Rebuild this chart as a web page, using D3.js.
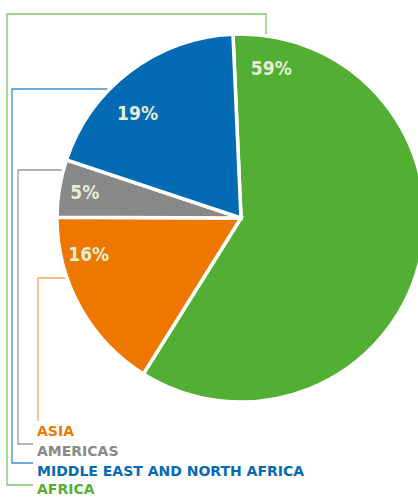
<!DOCTYPE html>
<html>
<head>
<meta charset="utf-8">
<script src="https://cdn.jsdelivr.net/npm/d3@7/dist/d3.min.js"></script>
<style>
  html, body { margin: 0; padding: 0; background: #fff; }
  svg { display: block; }
</style>
</head>
<body>
<svg id="chart" width="418" height="498"></svg>
<script>
// ---- data ----
const categories = ["AFRICA", "ASIA", "AMERICAS", "MIDDLE EAST AND NORTH AFRICA"];
const values = [59, 16, 5, 19];
const labels = ["59%", "16%", "5%", "19%"];
const colors = ["#53ae34", "#ee7700", "#898989", "#036ab3"];
const lineColors = ["#7cc766", "#f5a55c", "#9a9a9a", "#3d8ccb"];

// ---- layout ----
const svg = d3.select("#chart");
const cx = 241, cy = 218, R = 184;
const startDeg = -2.5;

const pie = d3.pie().sort(null).value(d => d)
  .startAngle(startDeg * Math.PI / 180)
  .endAngle((startDeg + 360) * Math.PI / 180);
const arcs = pie(values);
const arc = d3.arc().innerRadius(0).outerRadius(R);

const g = svg.append("g").attr("transform", `translate(${cx},${cy})`);
g.selectAll("path.slice").data(arcs).enter().append("path")
  .attr("class", "slice")
  .attr("d", arc)
  .attr("fill", (d, i) => colors[i])
  .attr("stroke", "#fff")
  .attr("stroke-width", 3.5)
  .attr("stroke-linejoin", "miter");

// label placement: fraction through the slice and radius
const labelFrac = [0.065, 0.77, 0.5, 0.39];
const labelRad = [0.83, 0.85, 0.86, 0.80];
g.selectAll("text.pct").data(arcs).enter().append("text")
  .attr("class", "pct")
  .each(function (d, i) {
    const a = d.startAngle + (d.endAngle - d.startAngle) * labelFrac[i];
    const r = R * labelRad[i];
    d3.select(this)
      .attr("x", Math.sin(a) * r)
      .attr("y", -Math.cos(a) * r);
  })
  .attr("text-anchor", "middle")
  .attr("dominant-baseline", "central")
  .attr("fill", "#e4eed3")
  .attr("font-family", "'DejaVu Sans Condensed', 'DejaVu Sans', sans-serif")
  .attr("font-weight", "bold")
  .attr("font-size", 19)
  .text((d, i) => labels[i]);

// ---- legend connector lines ----
const legendX = [7, 38, 18, 12];
const legendTopY = [14, 278, 170, 89];
const legendRowY = [485, 421, 444, 463];
const textBase = [494, 436, 456, 476];
const textX = 37;

function edgeX(y) { // left pie edge at height y
  return cx - Math.sqrt(Math.max(0, R * R - (y - cy) * (y - cy)));
}

const lines = svg.append("g").attr("fill", "none").attr("stroke-width", 1.3);
categories.forEach((c, i) => {
  let p;
  if (i === 0) {
    const topX = 266;
    const topEdgeY = cy - Math.sqrt(R * R - (topX - cx) * (topX - cx));
    p = `M${topX},${topEdgeY + 1} L${topX},${legendTopY[i]} L${legendX[i]},${legendTopY[i]} L${legendX[i]},${legendRowY[i]} L${textX - 4},${legendRowY[i]}`;
  } else if (i === 1) {
    p = `M${edgeX(legendTopY[i]) + 1},${legendTopY[i]} L${legendX[i]},${legendTopY[i]} L${legendX[i]},${legendRowY[i]}`;
  } else {
    const ex = i === 3 ? 112 : edgeX(legendTopY[i]) + 1;
    p = `M${ex},${legendTopY[i]} L${legendX[i]},${legendTopY[i]} L${legendX[i]},${legendRowY[i]} L${textX - 4},${legendRowY[i]}`;
  }
  lines.append("path").attr("d", p).attr("stroke", lineColors[i]);
});
g.raise();

svg.append("g").selectAll("text").data(categories).enter().append("text")
  .attr("x", textX)
  .attr("y", (d, i) => textBase[i])
  .attr("fill", (d, i) => colors[i])
  .attr("font-family", "'DejaVu Sans', sans-serif")
  .attr("font-weight", "bold")
  .attr("font-size", 14)
  .text(d => d);
</script>
</body>
</html>
